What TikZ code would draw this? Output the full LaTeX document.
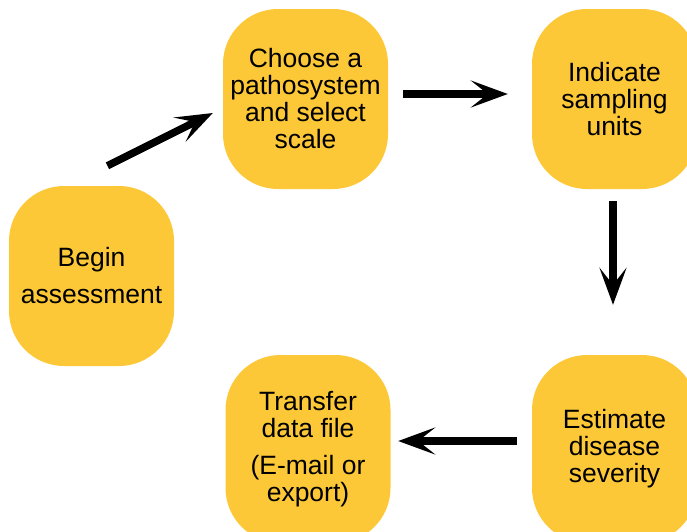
\documentclass[tikz,border=0pt]{standalone}
\usepackage{fontspec}
\setmainfont{Liberation Sans}
\usetikzlibrary{arrows.meta}

\definecolor{boxyellow}{RGB}{253,200,56}

\tikzset{
  box/.style={fill=boxyellow,rounded corners=55pt,minimum width=165pt,minimum height=180pt,
    inner sep=0pt,align=center,font=\fontsize{26.5}{27}\selectfont},
  flow/.style={line width=7.5pt,-{Stealth[length=37pt,width=27pt,inset=17pt]}}
}

\begin{document}
\begin{tikzpicture}[x=1pt,y=-1pt]
    \clip (0,0) rectangle (687,531);
    \node[box] (begin) at (91.5,276) {Begin\\[10pt]assessment};
    \node[box] (choose) at (305.5,99) {Choose a\\pathosystem\\and select\\scale};
    \node[box] (indicate) at (614.5,99) {Indicate\\sampling\\units};
    \node[box,minimum height=188pt] (estimate) at (614.5,449) {Estimate\\disease\\severity};
    \node[box,minimum height=188pt] (transfer) at (308,449) {Transfer\\data file\\[10pt](E-mail or\\export)};
    \draw[flow] ([xshift=16pt,yshift=20pt]begin.north) -- ([xshift=-10pt,yshift=-14pt]choose.west);
    \draw[flow,shorten <=15pt,shorten >=24pt] ([yshift=5pt]choose.east) -- ([yshift=5pt]indicate.west);
    \draw[flow,shorten <=12pt,shorten >=50pt] ([xshift=-1.5pt]indicate.south) -- ([xshift=-1.5pt]estimate.north);
    \draw[flow,shorten <=15pt,shorten >=7.5pt] ([yshift=8pt]estimate.west) -- ([yshift=8pt]transfer.east);
  \end{tikzpicture}
\end{document}
